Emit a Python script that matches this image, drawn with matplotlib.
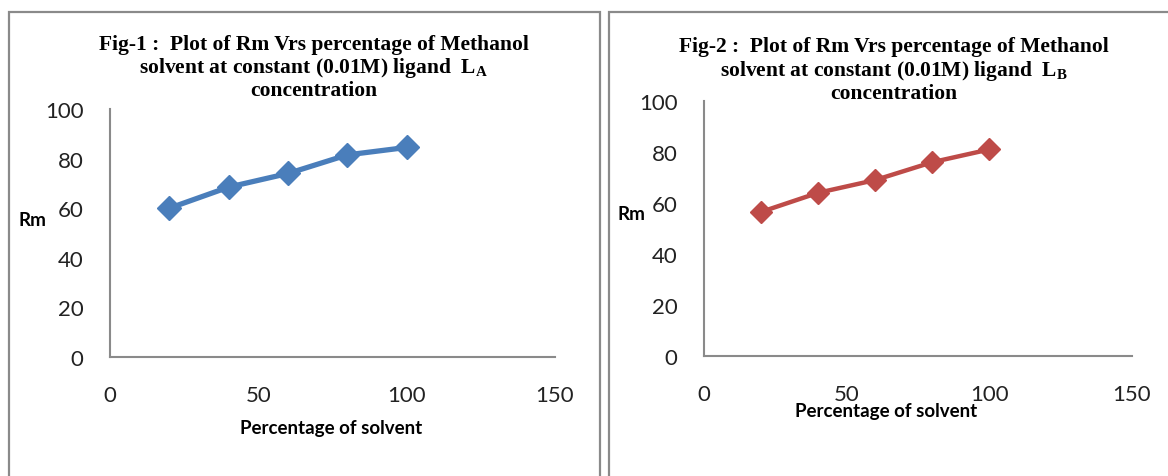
import matplotlib
matplotlib.use('Agg')
import matplotlib.pyplot as plt
from matplotlib.patches import Rectangle

# data
solvent_pct = [20, 40, 60, 80, 100]
rm_ligand_a = [60, 68.5, 74, 81.5, 84.5]
rm_ligand_b = [56.5, 64, 69, 76, 81]
x_ticks = [0, 50, 100, 150]
y_ticks = [0, 20, 40, 60, 80, 100]

plt.rcParams['mathtext.fontset'] = 'custom'
plt.rcParams['mathtext.bf'] = 'Liberation Serif:bold'
plt.rcParams['mathtext.rm'] = 'Liberation Serif'

W, H = 1168, 477
fig = plt.figure(figsize=(W / 100, H / 100), dpi=100)

GREY = '#8a8a8a'
TICK_FONT = 'Lato'


def fx(px):
    return px / W


def fy(py):
    return 1 - py / H


# panel frames (Excel chart borders)
fig.patches.append(Rectangle((fx(9), fy(490)), fx(600 - 9), (490 - 13) / H,
                             transform=fig.transFigure, fill=False,
                             edgecolor=GREY, lw=1.6))
fig.patches.append(Rectangle((fx(609), fy(490)), fx(1180 - 609), (490 - 13) / H,
                             transform=fig.transFigure, fill=False,
                             edgecolor=GREY, lw=1.6))


def make_panel(left, right, y0, y100, xs, ys, color, lw, ms, title_lines,
               title_cx, title_ys, rm_xy, xlab_xy, xtick_pad):
    ax = fig.add_axes([fx(left), fy(y0), fx(right - left), (y0 - y100) / H])
    ax.plot(xs, ys, color=color, lw=lw, marker='D', ms=ms,
            solid_capstyle='round', solid_joinstyle='round', clip_on=False)
    ax.set_xlim(0, 150)
    ax.set_ylim(0, 100)
    ax.set_xticks(x_ticks)
    ax.set_yticks(y_ticks)
    for s in ['top', 'right']:
        ax.spines[s].set_visible(False)
    for s in ['left', 'bottom']:
        ax.spines[s].set_color(GREY)
        ax.spines[s].set_linewidth(1.5)
    ax.tick_params(length=0, labelsize=16, labelcolor='#222222')
    ax.tick_params(axis='y', pad=19)
    ax.tick_params(axis='x', pad=xtick_pad)
    for lab in ax.get_xticklabels() + ax.get_yticklabels():
        lab.set_fontfamily(TICK_FONT)
    ax.set_facecolor('none')

    for txt, ty in zip(title_lines, title_ys):
        fig.text(fx(title_cx), fy(ty), txt, ha='center', va='center',
                 fontsize=15.5, fontweight='bold', family='Liberation Serif')
    fig.text(fx(rm_xy[0]), fy(rm_xy[1]), 'Rm', ha='center', va='center',
             fontsize=13.5, fontweight='bold', family=TICK_FONT)
    fig.text(fx(xlab_xy[0]), fy(xlab_xy[1]), 'Percentage of solvent',
             ha='center', va='center', fontsize=13.5, fontweight='bold',
             family=TICK_FONT)
    return ax


make_panel(110, 555, 358, 110, solvent_pct, rm_ligand_a, '#4A7EBB', 3.8, 12,
           ['Fig-1 :  Plot of Rm Vrs percentage of Methanol',
            r'solvent at constant (0.01M) ligand  $\mathbf{L_A}$',
            'concentration'],
           314, [45, 68, 91], (32, 221), (331, 429), 20)

make_panel(704, 1132, 357, 102, solvent_pct, rm_ligand_b, '#BE4B48', 3.2, 11,
           ['Fig-2 :  Plot of Rm Vrs percentage of Methanol',
            r'solvent at constant (0.01M) ligand  $\mathbf{L_B}$',
            'concentration'],
           894, [47, 71, 94], (631, 215), (886, 411), 20)

fig.savefig('out.png', dpi=100)
